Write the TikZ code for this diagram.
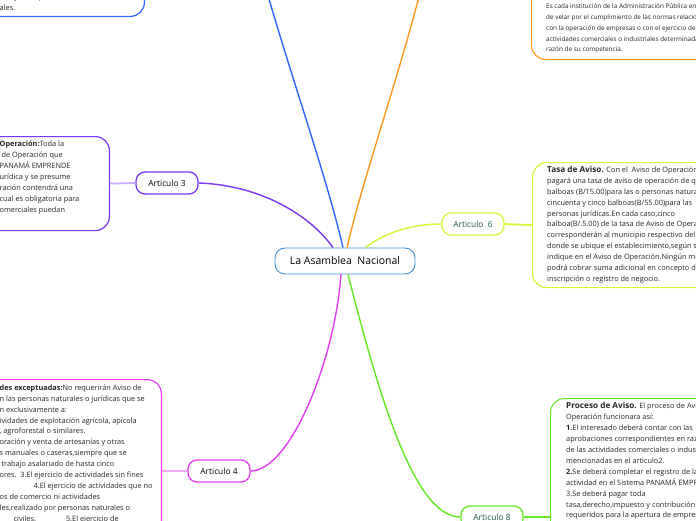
\documentclass[tikz,border=0pt]{standalone}
\usepackage{fontspec}
\setmainfont{Open Sans}
\usetikzlibrary{positioning}

\definecolor{rootblue}{HTML}{3D8ED8}
\definecolor{bluebr}{HTML}{2F66FF}
\definecolor{orangebr}{HTML}{FF9A1F}
\definecolor{purplebr}{HTML}{7A35F5}
\definecolor{purplelt}{HTML}{C9ABFF}
\definecolor{limebr}{HTML}{D8F53A}
\definecolor{magentabr}{HTML}{E43CF2}
\definecolor{magentalt}{HTML}{F4AAF8}
\definecolor{greenbr}{HTML}{62EA22}
\definecolor{darkgreen}{HTML}{1C5B3C}

\begin{document}
\begin{tikzpicture}[x=1pt, y=-1pt,
            root/.style={
                draw=rootblue,
                line width=0.9pt,
                rounded corners=10pt,
                fill=white,
                minimum width=140pt,
                minimum height=26pt,
                font=\fontsize{10.5}{12}\selectfont
            },
            article/.style={
                draw,
                line width=1.3pt,
                rounded corners=9pt,
                fill=white,
                minimum width=62pt,
                minimum height=22pt,
                inner sep=2pt,
                font=\fontsize{8.4}{10}\selectfont
            },
            notebox/.style={
                draw,
                line width=1.2pt,
                rounded corners=14pt,
                fill=white
            },
            notetext/.style={
                inner sep=0pt,
                align=left,
                text=black!85,
                font=\fontsize{7.35}{10.9}\selectfont
            },
            branch/.style={line width=1.4pt},
            link/.style={line width=1.8pt}
        ]

        \useasboundingbox (0,0) rectangle (696,520);
        \clip (0,0) rectangle (696,520);

        % Central topic
        \node[root] (root) at (345,261) {La Asamblea\ \ Nacional};

        % Top-left branch (blue), topic above the picture
        \coordinate (bluetop) at (258,-40);
        \node[notebox, draw=bluebr,
            minimum width=250pt,
            minimum height=100pt,
            anchor=south east
        ] (art1box) at (145,17) {};
        \node[notetext, anchor=north west] (art1text) at (-0.5,-6)
            {e haya cumplido con todas las\\ales.};

        % Top-right branch (orange), topic above the picture
        \coordinate (orangetop) at (428,-40);
        \node[notebox, draw=orangebr,
            minimum width=250pt,
            minimum height=120pt,
            anchor=south west
        ] (art2box) at (531,60) {};
        \node[notetext, anchor=north west,
            font=\fontsize{6.4}{10.8}\selectfont
        ] (art2text) at (546,3.5)
            {Es cada institución de la Administración Pública encargada\\
             de velar por el cumplimiento de las normas relacionadas\\
             con la operación de empresas o con el ejercicio de\\
             actividades comerciales o industriales determinadas en\\
             razón de su competencia.};

        % Articulo 3
        \node[article, draw=purplebr] (art3) at (167,183) {Articulo 3};
        \node[notebox, draw=purplebr,
            minimum width=260pt,
            minimum height=94pt,
            anchor=north east
        ] (art3box) at (110,136) {};
        \node[notetext, anchor=north west] (art3text) at (-0.5,141)
            {\textbf{Operación:}Toda la\\
             \ de Operación que\\
             PANAMÁ EMPRENDE\\
             urídica y se presume\\
             ración contendrá una\\
             cual es obligatoria para\\
             omerciales puedan};

        % Articulo 4
        \node[article, draw=magentabr] (art4) at (219,471) {Articulo 4};
        \node[notebox, draw=magentabr,
            minimum width=260pt,
            minimum height=200pt,
            anchor=north east
        ] (art4box) at (162,379) {};
        \node[notetext, anchor=north west] (art4text) at (-0.5,384.5)
            {\textbf{des exceptuadas:}No requerirán Aviso de\\
             n las personas naturales o jurídicas que se\\
             n exclusivamente a:\\
             ividades de explotación agrícola, apícola\\
             , agroforestal o similares.\\
             oración y venta de artesanías y otras\\
             s manuales o caseras,siempre que se\\
             \ trabajo asalariado de hasta cinco\\
             ores.\ \ 3.El ejercicio de actividades sin fines\\
             \hspace*{34pt}4.El ejercicio de actividades que no\\
             os de comercio ni actividades\\
             les,realizado por personas naturales o\\
             \hspace*{14pt}civiles.\hspace*{30pt}5.El ejercicio de};

        % Articulo 6
        \node[article, draw=limebr, text=darkgreen] (art6) at (473,224) {Articulo\ \ 6};
        \node[notebox, draw=limebr,
            minimum width=250pt,
            minimum height=125pt,
            anchor=north west
        ] (art6box) at (532,162) {};
        \node[notetext, anchor=north west] (art6text) at (547,166)
            {{\fontsize{8.2}{10}\selectfont\textbf{Tasa de Aviso.}} Con el\ \ Aviso de Operación se\\
             pagará una tasa de aviso de operación de quince\\
             balboas (B/15.00)para las o personas naturales y\\
             cincuenta y cinco balboas(B/55.00)para las\\
             personas jurídicas.En cada caso,cinco\\
             balboa(B/.5.00) de la tasa de Aviso de Operación\\
             corresponderán al municipio respectivo del distrito\\
             donde se ubique el establecimiento,según se\\
             indique en el Aviso de Operación.Ningún municipio\\
             podrá cobrar suma adicional en concepto de\\
             inscripción o registro de negocio.};

        % Articulo 8
        \node[article, draw=greenbr, text=darkgreen] (art8) at (492,517) {Articulo 8};
        \node[notebox, draw=greenbr,
            line width=1pt,
            minimum width=250pt,
            minimum height=240pt,
            anchor=north west
        ] (art8box) at (550,398) {};
        \node[notetext, anchor=north west] (art8text) at (566,402.5)
            {{\fontsize{8.2}{10}\selectfont\textbf{Proceso de Aviso.}} El proceso de Aviso de\\
             Operación funcionara así:\\
             \textbf{1.}El interesado deberá contar con las\\
             aprobaciones correspondientes en razón\\
             de las actividades comerciales o industriales\\
             mencionadas en el articulo2.\\
             \textbf{2.}Se deberá completar el registro de la\\
             actividad en el Sistema PANAMÁ EMPRENDE\\
             3.Se deberá pagar toda\\
             tasa,derecho,impuesto y contribución\\
             requeridos para la apertura de empresas};

        % Links from topics to their notes
        \draw[link, purplelt] (art3box.east) -- (art3.west);
        \draw[link, magentalt] (art4box.east |- art4.west) -- (art4.west);
        \draw[link, limebr] (art6.east) -- (art6box.west);
        \draw[link, greenbr] (art8.east) -- (art8.east -| art8box.west);

        % Branches from the central topic
        \draw[branch, bluebr] ([xshift=-2pt]root.north)
            .. controls (325,170) and (285,60) .. (bluetop);
        \draw[branch, orangebr] ([xshift=2pt]root.north)
            .. controls (365,170) and (405,60) .. (orangetop);
        \draw[branch, purplebr] (art3.east)
            .. controls (260,185) and (310,215) .. ([xshift=-12pt]root.north);
        \draw[branch, limebr] ([xshift=20pt]root.north)
            .. controls (390,230) and (415,224) .. (art6.west);
        \draw[branch, magentabr] ([xshift=-4pt]root.south)
            .. controls (335,360) and (290,471) .. (art4.east);
        \draw[branch, greenbr] ([xshift=3pt]root.south)
            .. controls (380,400) and (415,517) .. (art8.west);
        \end{tikzpicture}
\end{document}
